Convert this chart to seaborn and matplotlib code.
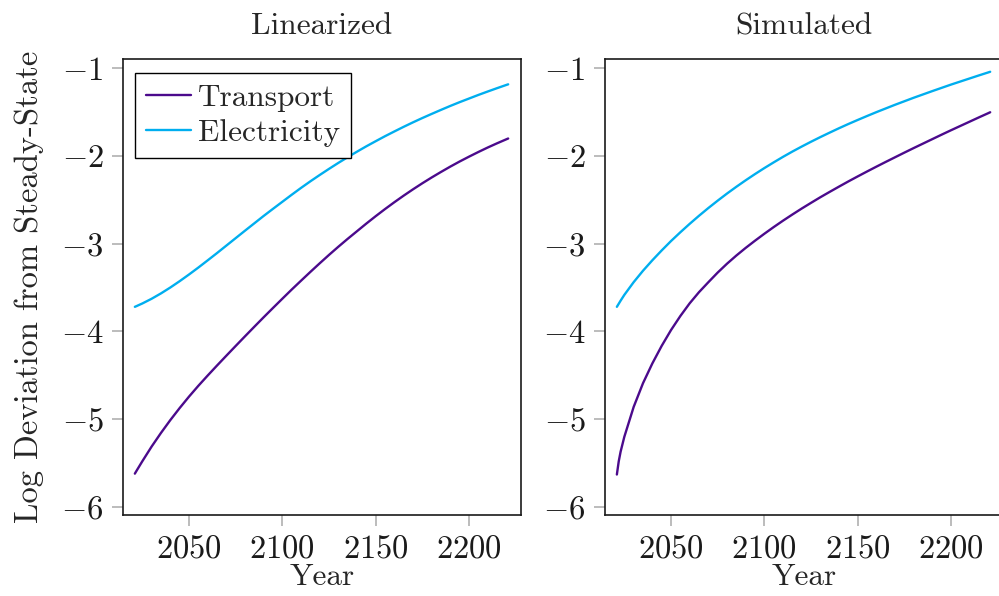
import matplotlib
matplotlib.use("Agg")
import matplotlib.pyplot as plt
import pandas as pd
import seaborn as sns

# Log deviation from steady state for each sector over time
years = [2021, 2022, 2023, 2025, 2030, 2035, 2040, 2045, 2050, 2055, 2060, 2065,
         2070, 2075, 2080, 2085, 2090, 2095, 2100, 2105, 2110, 2115, 2120, 2125,
         2130, 2135, 2140, 2145, 2150, 2155, 2160, 2165, 2170, 2175, 2180, 2185,
         2190, 2195, 2200, 2205, 2210, 2215, 2220, 2221]

lin_transport = [-5.620, -5.584, -5.549, -5.479, -5.311, -5.156, -5.010, -4.873,
                 -4.743, -4.620, -4.503, -4.389, -4.277, -4.166, -4.056, -3.947,
                 -3.839, -3.733, -3.628, -3.524, -3.423, -3.323, -3.225, -3.129,
                 -3.036, -2.946, -2.859, -2.772, -2.688, -2.607, -2.529, -2.454,
                 -2.382, -2.313, -2.247, -2.184, -2.123, -2.065, -2.010, -1.957,
                 -1.906, -1.858, -1.812, -1.803]
lin_electricity = [-3.720, -3.711, -3.701, -3.682, -3.628, -3.567, -3.500, -3.428,
                   -3.352, -3.273, -3.191, -3.108, -3.023, -2.938, -2.853, -2.769,
                   -2.685, -2.604, -2.524, -2.444, -2.366, -2.291, -2.219, -2.149,
                   -2.081, -2.016, -1.953, -1.892, -1.834, -1.777, -1.723, -1.670,
                   -1.619, -1.570, -1.523, -1.477, -1.432, -1.389, -1.348, -1.307,
                   -1.268, -1.230, -1.193, -1.186]
sim_transport = [-5.630, -5.480, -5.370, -5.200, -4.860, -4.590, -4.365, -4.165,
                 -3.985, -3.825, -3.680, -3.553, -3.440, -3.330, -3.229, -3.136,
                 -3.049, -2.967, -2.888, -2.812, -2.739, -2.669, -2.601, -2.536,
                 -2.472, -2.411, -2.351, -2.292, -2.235, -2.179, -2.124, -2.070,
                 -2.017, -1.964, -1.912, -1.861, -1.810, -1.759, -1.709, -1.660,
                 -1.611, -1.562, -1.514, -1.504]
sim_electricity = [-3.720, -3.685, -3.650, -3.584, -3.439, -3.309, -3.190, -3.078,
                   -2.971, -2.871, -2.775, -2.683, -2.595, -2.511, -2.430, -2.353,
                   -2.279, -2.208, -2.140, -2.075, -2.012, -1.952, -1.895, -1.840,
                   -1.787, -1.736, -1.686, -1.638, -1.592, -1.547, -1.503, -1.461,
                   -1.419, -1.379, -1.339, -1.301, -1.263, -1.226, -1.189, -1.154,
                   -1.119, -1.084, -1.050, -1.043]

sectors = ["Transport", "Electricity"]
panel_titles = ["Linearized", "Simulated"]
x_ticks = [2050, 2100, 2150, 2200]
y_ticks = [-1, -2, -3, -4, -5, -6]

frames = []
for title, (tr, el) in zip(panel_titles, [(lin_transport, lin_electricity),
                                           (sim_transport, sim_electricity)]):
    for sector, vals in zip(sectors, [tr, el]):
        frames.append(pd.DataFrame({"Year": years, "value": vals,
                                    "sector": sector, "panel": title}))
df = pd.concat(frames, ignore_index=True)

sns.set_theme(style="white")
plt.rcParams.update({
    "font.family": ["cmr10"],
    "mathtext.fontset": "cm",
    "axes.formatter.use_mathtext": True,
    "axes.unicode_minus": True,
    "legend.fancybox": False,
})

palette = {"Transport": "#4b0a8c", "Electricity": "#00aeef"}

fig = plt.figure(figsize=(9.99, 5.96), dpi=100)
ax1 = fig.add_axes([0.1231, 0.1359, 0.3984, 0.7651])
ax2 = fig.add_axes([0.6056, 0.1359, 0.3984, 0.7651])

for i, (ax, title) in enumerate(zip([ax1, ax2], panel_titles)):
    sub = df[df["panel"] == title]
    sns.lineplot(data=sub, x="Year", y="value", hue="sector", hue_order=sectors,
                 palette=palette, linewidth=1.7, ax=ax, legend=(i == 0))
    ax.set_xlim(2014.64, 2227.86)
    ax.set_ylim(-6.091, -0.8975)
    ax.set_xticks(x_ticks)
    ax.set_yticks(y_ticks)
    ax.tick_params(axis="both", which="major", direction="out", length=8,
                   width=1.2, color="#b0b0b0", labelsize=23.5, pad=6,
                   bottom=True, left=True, labelcolor="#1a1a1a")
    for sp in ax.spines.values():
        sp.set_color("#1a1a1a")
        sp.set_linewidth(1.2)
        sp.set_visible(True)
    ax.set_title(title, fontsize=22.5, pad=18)
    ax.set_xlabel("Year", fontsize=22.5, labelpad=0)
    ax.set_ylabel("")

ax1.set_ylabel("Log Deviation from Steady-State", fontsize=23.5, labelpad=12)

leg = ax1.legend(loc="upper left", bbox_to_anchor=(0.030, 0.969), fontsize=22.5,
                 frameon=True, framealpha=1, edgecolor="black", borderaxespad=0,
                 handlelength=1.45, handletextpad=0.2, labelspacing=0.22,
                 borderpad=0.36)
leg.get_frame().set_linewidth(1.0)

fig.savefig("out.png", dpi=100)
